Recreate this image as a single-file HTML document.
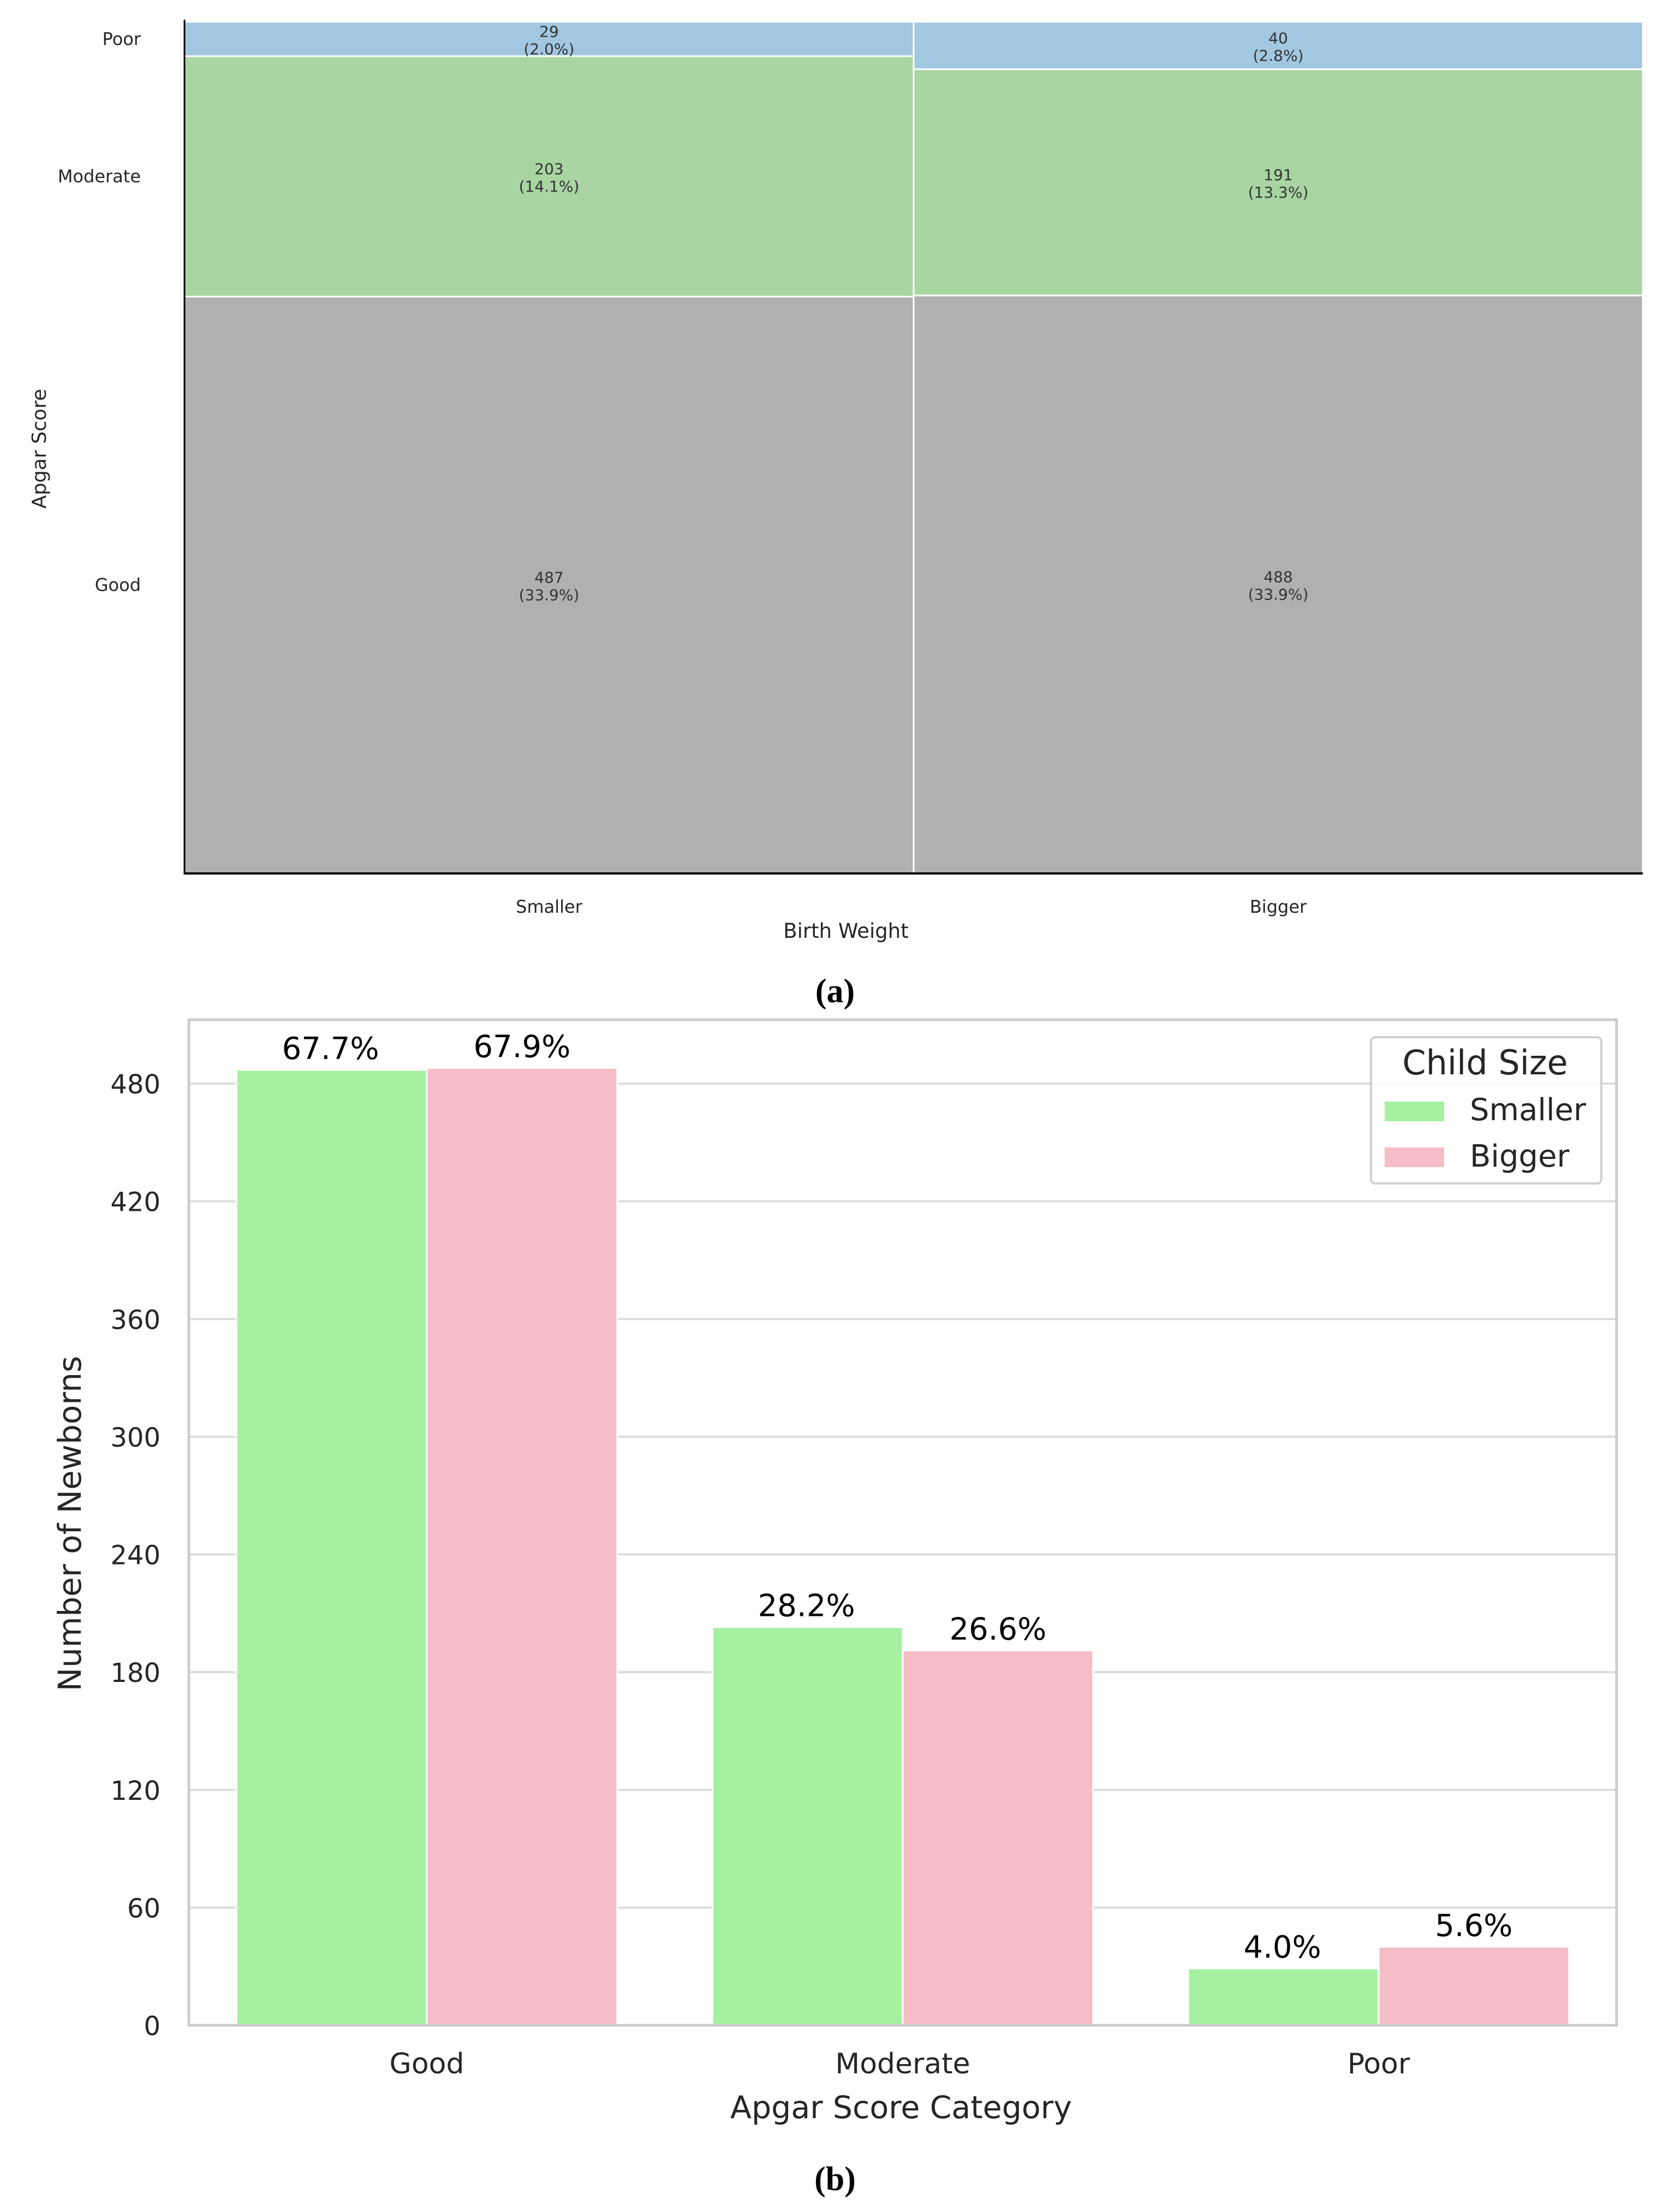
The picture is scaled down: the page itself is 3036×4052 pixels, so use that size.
<!DOCTYPE html>
<html><head><meta charset="utf-8"><style>
html,body{margin:0;padding:0;background:#fff;}
svg{display:block;font-family:"DejaVu Sans","Liberation Sans",sans-serif;}
</style></head><body>
<svg id="fig" width="3036" height="4052" viewBox="0 0 3036 4052" xmlns="http://www.w3.org/2000/svg">
<rect x="0" y="0" width="3036" height="4052" fill="#fff"/>
<g id="pa"></g>
<g id="pb"></g>
</svg>
<script>
// Panel (a) data
const mosaicColumns = ["Smaller", "Bigger"];
const mosaicRows = ["Good", "Moderate", "Poor"];
const mosaicCounts = [[487, 203, 29], [488, 191, 40]];
const mosaicPercents = ["33.9%", "14.1%", "2.0%", "33.9%", "13.3%", "2.8%"];
// Panel (b) data
const barCategories = ["Good", "Moderate", "Poor"];
const smallerValues = [487, 203, 29];
const biggerValues = [488, 191, 40];
const smallerLabels = ["67.7%", "28.2%", "4.0%"];
const biggerLabels = ["67.9%", "26.6%", "5.6%"];
const yTicks = [0, 60, 120, 180, 240, 300, 360, 420, 480];

const NS = "http://www.w3.org/2000/svg";
function mk(parent, tag, attrs, text) {
  const e = document.createElementNS(NS, tag);
  for (const k in attrs) e.setAttribute(k, attrs[k]);
  if (text !== undefined) e.textContent = text;
  parent.appendChild(e);
  return e;
}
const rowColors = {Good: "#b0b0b0", Moderate: "#a8d5a2", Poor: "#a2c7e0"};

// ---------- Panel (a) ----------
const pa = document.getElementById("pa");
const aL = 338, aR = 3010, aT = 40, aB = 1600;
const total = mosaicCounts.flat().reduce((a, b) => a + b, 0);
let cx = aL;
mosaicColumns.forEach((col, ci) => {
  const colTot = mosaicCounts[ci].reduce((a, b) => a + b, 0);
  const w = (aR - aL) * colTot / total;
  let y = aB;
  mosaicRows.forEach((row, ri) => {
    const h = (aB - aT) * mosaicCounts[ci][ri] / colTot;
    const r = mk(pa, "rect", {x: cx, y: y - h, width: w, height: h, fill: rowColors[row], stroke: "#fff", "stroke-width": 3});
    
    
    const t = mk(pa, "text", {x: cx + w / 2, y: y - h / 2 - 4, "text-anchor": "middle", "font-size": 28, fill: "#333"}, String(mosaicCounts[ci][ri]));
    
    
    const t2 = mk(pa, "text", {x: cx + w / 2, y: y - h / 2 + 28, "text-anchor": "middle", "font-size": 28, fill: "#333"}, "(" + mosaicPercents[ci * 3 + ri] + ")");
    
    
    if (ci === 0) {
      const yl = mk(pa, "text", {x: 258, y: y - h / 2 + 11, "text-anchor": "end", "font-size": 32, fill: "#262626"}, row);
      
      
    }
    y -= h;
  });
  const xl = mk(pa, "text", {x: cx + w / 2, y: 1672, "text-anchor": "middle", "font-size": 32, fill: "#262626"}, col);
  
  
  cx += w;
});
mk(pa, "line", {x1: aL, y1: aT - 4, x2: aL, y2: aB + 2, stroke: "#000", "stroke-width": 3,  });
mk(pa, "line", {x1: aL - 1, y1: aB, x2: aR, y2: aB, stroke: "#000", "stroke-width": 4,  });
mk(pa, "text", {x: 1550, y: 1718, "text-anchor": "middle", "font-size": 37, fill: "#262626",  }, "Birth Weight");
mk(pa, "text", {x: 0, y: 0, transform: "translate(84,822) rotate(-90)", "text-anchor": "middle", "font-size": 36, fill: "#262626",  }, "Apgar Score");
mk(pa, "text", {x: 1530, y: 1836, "text-anchor": "middle", "font-size": 62, "font-weight": "bold", "font-family": "Liberation Serif, serif", fill: "#000",  }, "(a)");

// ---------- Panel (b) ----------
const pb = document.getElementById("pb");
const bL = 346, bR = 2962, bT = 1868, bB = 3710;
const yScale = v => bB - v * (1725 / 480);
const unit = (bR - bL) / barCategories.length;
const xCenter = i => bL + unit * (i + 0.5);
const barW = unit * 0.4;
yTicks.forEach(t => {
  const g = mk(pb, "line", {x1: bL, y1: yScale(t), x2: bR, y2: yScale(t), stroke: "#dcdcdc", "stroke-width": 4});
  
  
  const tl = mk(pb, "text", {x: 294, y: yScale(t) + 18, "text-anchor": "end", "font-size": 48, fill: "#262626"}, String(t));
  
  
});
barCategories.forEach((cat, i) => {
  const c = xCenter(i);
  const s = mk(pb, "rect", {x: c - barW, y: yScale(smallerValues[i]), width: barW, height: bB - yScale(smallerValues[i]), fill: "#a6f1a1", stroke: "#fff", "stroke-width": 3});
  
  
  const b = mk(pb, "rect", {x: c, y: yScale(biggerValues[i]), width: barW, height: bB - yScale(biggerValues[i]), fill: "#f5bdc7", stroke: "#fff", "stroke-width": 3});
  
  
  const sl = mk(pb, "text", {x: c - barW / 2 - 2, y: yScale(smallerValues[i]) - 20, "text-anchor": "middle", "font-size": 56, fill: "#000"}, smallerLabels[i]);
  
  
  const bl = mk(pb, "text", {x: c + barW / 2, y: yScale(biggerValues[i]) - 20, "text-anchor": "middle", "font-size": 56, fill: "#000"}, biggerLabels[i]);
  
  
  const xl = mk(pb, "text", {x: c, y: 3798, "text-anchor": "middle", "font-size": 52, fill: "#262626"}, cat);
  
  
});
mk(pb, "rect", {x: bL, y: bT, width: bR - bL, height: bB - bT, fill: "none", stroke: "#cccccc", "stroke-width": 5,  });
mk(pb, "text", {x: 1651, y: 3880, "text-anchor": "middle", "font-size": 57, fill: "#262626",  }, "Apgar Score Category");
mk(pb, "text", {x: 0, y: 0, transform: "translate(148,2791) rotate(-90)", "text-anchor": "middle", "font-size": 58, fill: "#262626",  }, "Number of Newborns");
// legend
const lg = mk(pb, "g", { });
mk(lg, "rect", {x: 2512, y: 1900, width: 422, height: 268, rx: 8, fill: "#fff", "fill-opacity": 0.85, stroke: "#d0d0d0", "stroke-width": 4,  });
mk(lg, "text", {x: 2721, y: 1968, "text-anchor": "middle", "font-size": 62, fill: "#262626",  }, "Child Size");
const le1 = mk(lg, "g", { });
mk(le1, "rect", {x: 2537, y: 2018, width: 109, height: 36, fill: "#a6f1a1"});
mk(le1, "text", {x: 2693, y: 2052, "font-size": 56, fill: "#262626"}, "Smaller");
const le2 = mk(lg, "g", { });
mk(le2, "rect", {x: 2537, y: 2102, width: 109, height: 36, fill: "#f5bdc7"});
mk(le2, "text", {x: 2693, y: 2137, "font-size": 56, fill: "#262626"}, "Bigger");
mk(pb, "text", {x: 1530, y: 4012, "text-anchor": "middle", "font-size": 62, "font-weight": "bold", "font-family": "Liberation Serif, serif", fill: "#000",  }, "(b)");
</script>
</body></html>
